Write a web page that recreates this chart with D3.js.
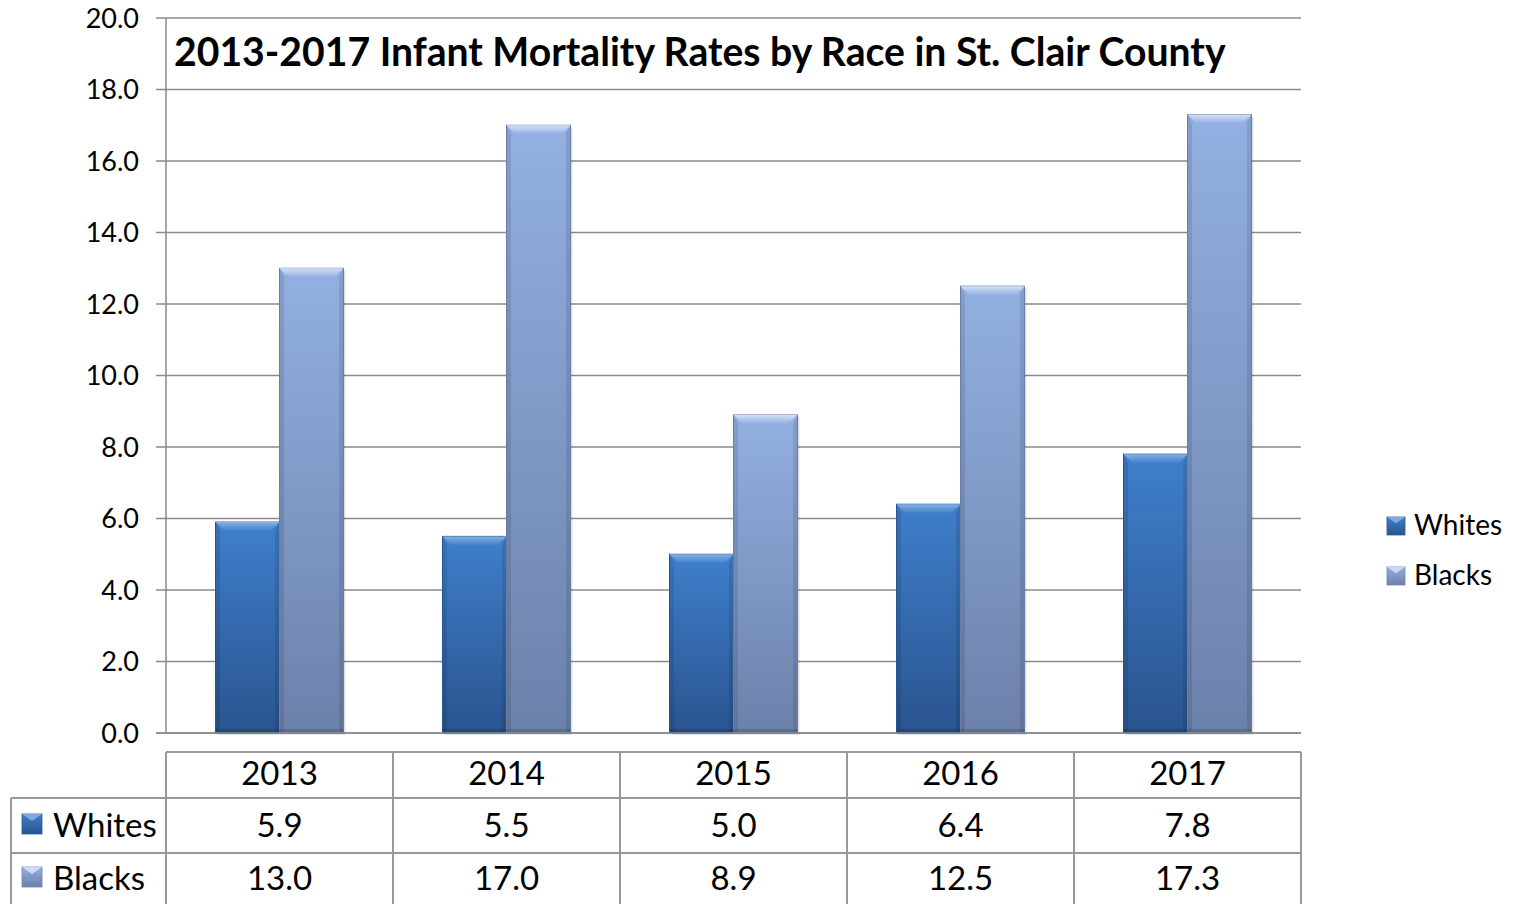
<!DOCTYPE html>
<html>
<head>
<meta charset="utf-8">
<script src="https://cdn.jsdelivr.net/npm/d3@7"></script>
<style>
  html, body { margin: 0; padding: 0; background: #fff; }
  svg { display: block; font-family: Lato, "Open Sans", sans-serif; }
</style>
</head>
<body>
<div id="chart"></div>
<script>
// --- data ---
const years = ['2013', '2014', '2015', '2016', '2017'];
const seriesNames = ['Whites', 'Blacks'];
const whites = [5.9, 5.5, 5.0, 6.4, 7.8];
const blacks = [13.0, 17.0, 8.9, 12.5, 17.3];
const yTicks = [0, 2, 4, 6, 8, 10, 12, 14, 16, 18, 20];
const title = '2013-2017 Infant Mortality Rates by Race in St. Clair County';

const values = { Whites: whites, Blacks: blacks };

// plot sizes
const width = 1518, height = 904;
const plot = { left: 166, right: 1301, top: 18, bottom: 733 };
const barW = 64;
const table = { left: 11, headTop: 752, row1: 798, row2: 853, bottom: 912 };

const styles = {
  Whites: { top: '#3f7fcb', bottom: '#29548f', bevel: '#86b0e4', edge: '#2a5a9a' },
  Blacks: { top: '#93b0e2', bottom: '#6c81aa', bevel: '#d2e0f7', edge: '#6f85b0' }
};

const svg = d3.select('#chart').append('svg')
  .attr('width', width)
  .attr('height', height);

const defs = svg.append('defs');
seriesNames.forEach(s => {
  const g = defs.append('linearGradient')
    .attr('id', 'grad-' + s).attr('x1', 0).attr('y1', 0).attr('x2', 0).attr('y2', 1);
  g.append('stop').attr('offset', '0%').attr('stop-color', styles[s].top);
  g.append('stop').attr('offset', '100%').attr('stop-color', styles[s].bottom);
  const b = defs.append('linearGradient')
    .attr('id', 'bevel-' + s).attr('x1', 0).attr('y1', 0).attr('x2', 0).attr('y2', 1);
  b.append('stop').attr('offset', '0%').attr('stop-color', styles[s].bevel);
  b.append('stop').attr('offset', '100%').attr('stop-color', styles[s].top);
});

// --- scales ---
const y = d3.scaleLinear().domain([0, 20]).range([plot.bottom, plot.top]);
const x0 = d3.scaleBand().domain(years).range([plot.left, plot.right]).padding(0);
const x1 = d3.scaleBand().domain(seriesNames).range([0, barW * 2]).padding(0);
const groupOffset = (x0.bandwidth() - barW * 2) / 2;

// gridlines + tick labels
const grid = svg.append('g');
grid.selectAll('line').data(yTicks).join('line')
  .attr('x1', plot.left - 10).attr('x2', plot.right)
  .attr('y1', d => y(d)).attr('y2', d => y(d))
  .attr('stroke', '#8a8a8a').attr('stroke-width', 1.5);
grid.selectAll('text').data(yTicks).join('text')
  .attr('x', 139).attr('y', d => y(d))
  .attr('dy', '0.36em')
  .attr('text-anchor', 'end')
  .style('font-size', '27px')
  .attr('fill', '#000')
  .text(d => d.toFixed(1));

svg.append('line')
  .attr('x1', plot.left).attr('x2', plot.left)
  .attr('y1', plot.top).attr('y2', plot.bottom)
  .attr('stroke', '#8a8a8a').attr('stroke-width', 1.5);

// --- bars ---
function drawBar(g, s, bx, by, bw, bh) {
  const st = styles[s];
  g.append('rect').attr('x', bx + 2).attr('y', by + 2).attr('width', bw).attr('height', bh)
    .attr('fill', 'rgba(0,0,0,0.12)');
  g.append('rect').attr('x', bx).attr('y', by).attr('width', bw).attr('height', bh)
    .attr('fill', `url(#grad-${s})`)
    .attr('stroke', st.edge).attr('stroke-width', 1);
  const bev = Math.min(9, bh / 2);
  // top bevel
  g.append('path')
    .attr('d', `M${bx},${by} L${bx + bw},${by} L${bx + bw - bev},${by + bev} L${bx + bev},${by + bev} Z`)
    .attr('fill', `url(#bevel-${s})`);
  // side shading
  g.append('path')
    .attr('d', `M${bx},${by} L${bx + bev * 0.5},${by + bev} L${bx + bev * 0.5},${by + bh - 3} L${bx},${by + bh} Z`)
    .attr('fill', 'rgba(0,0,0,0.10)');
  g.append('path')
    .attr('d', `M${bx + bw},${by} L${bx + bw - bev * 0.5},${by + bev} L${bx + bw - bev * 0.5},${by + bh - 3} L${bx + bw},${by + bh} Z`)
    .attr('fill', 'rgba(0,0,0,0.10)');
  g.append('rect').attr('x', bx).attr('y', by + bh - 4).attr('width', bw).attr('height', 4)
    .attr('fill', 'rgba(0,0,0,0.15)');
}

const bars = svg.append('g');
years.forEach((yr, i) => {
  seriesNames.forEach(s => {
    const v = values[s][i];
    const bx = x0(yr) + groupOffset + x1(s);
    drawBar(bars, s, bx, y(v), x1.bandwidth(), y(0) - y(v));
  });
});

// x axis line
svg.append('line')
  .attr('x1', plot.left - 10).attr('x2', plot.right)
  .attr('y1', plot.bottom).attr('y2', plot.bottom)
  .attr('stroke', '#8a8a8a').attr('stroke-width', 1.5);

// --- title ---
const t = svg.append('text')
  .attr('x', 174).attr('y', 66)
  .style('font-weight', 'bold')
  .style('font-size', '34px')
  .attr('fill', '#000')
  .text(title);
const tw = t.node().getComputedTextLength();
t.style('font-size', (34 * 1052 / tw) + 'px');

// --- legend marker ---
function marker(g, s, mx, my, sz) {
  g.append('rect').attr('x', mx).attr('y', my).attr('width', sz).attr('height', sz)
    .attr('fill', `url(#grad-${s})`).attr('stroke', styles[s].edge).attr('stroke-width', 0.8);
  const c = sz / 2;
  g.append('path')
    .attr('d', `M${mx},${my} L${mx + sz},${my} L${mx + c},${my + c * 0.7} Z`)
    .attr('fill', styles[s].bevel).attr('opacity', 0.9);
}

const legend = svg.append('g');
seriesNames.forEach((s, i) => {
  const ly = 525 + i * 50;
  marker(legend, s, 1387, ly - 8, 18);
  legend.append('text').attr('x', 1414).attr('y', ly).attr('dy', '0.36em')
    .style('font-size', '28px').attr('fill', '#000').text(s);
});

// --- data table ---
const tbl = svg.append('g');
const border = '#999';
// horizontal lines
tbl.append('line').attr('x1', plot.left).attr('x2', plot.right)
  .attr('y1', table.headTop).attr('y2', table.headTop).attr('stroke', border).attr('stroke-width', 2);
[table.row1, table.row2].forEach(ly => {
  tbl.append('line').attr('x1', table.left).attr('x2', plot.right)
    .attr('y1', ly).attr('y2', ly).attr('stroke', border).attr('stroke-width', 2);
});
// vertical lines
tbl.append('line').attr('x1', table.left).attr('x2', table.left)
  .attr('y1', table.row1).attr('y2', table.bottom).attr('stroke', border).attr('stroke-width', 2);
years.concat(['end']).forEach(yr => {
  const lx = yr === 'end' ? plot.right : x0(yr);
  tbl.append('line').attr('x1', lx).attr('x2', lx)
    .attr('y1', table.headTop).attr('y2', table.bottom).attr('stroke', border).attr('stroke-width', 2);
});
// header
tbl.selectAll('.yr').data(years).join('text').attr('class', 'yr')
  .attr('x', d => x0(d) + x0.bandwidth() / 2)
  .attr('y', 773)
  .attr('dy', '0.36em').attr('text-anchor', 'middle')
  .style('font-size', '33px').attr('fill', '#000')
  .text(d => d);
// rows
seriesNames.forEach((s, r) => {
  const cy = r === 0 ? 825 : 878;
  marker(tbl, s, 22, cy - 11, 20);
  tbl.append('text').attr('x', 53).attr('y', cy).attr('dy', '0.36em')
    .style('font-size', '33px').attr('fill', '#000').text(s);
  tbl.selectAll('.v' + r).data(values[s]).join('text').attr('class', 'v' + r)
    .attr('x', (d, i) => x0(years[i]) + x0.bandwidth() / 2)
    .attr('y', cy).attr('dy', '0.36em').attr('text-anchor', 'middle')
    .style('font-size', '33px').attr('fill', '#000')
    .text(d => d.toFixed(1));
});
</script>
</body>
</html>
